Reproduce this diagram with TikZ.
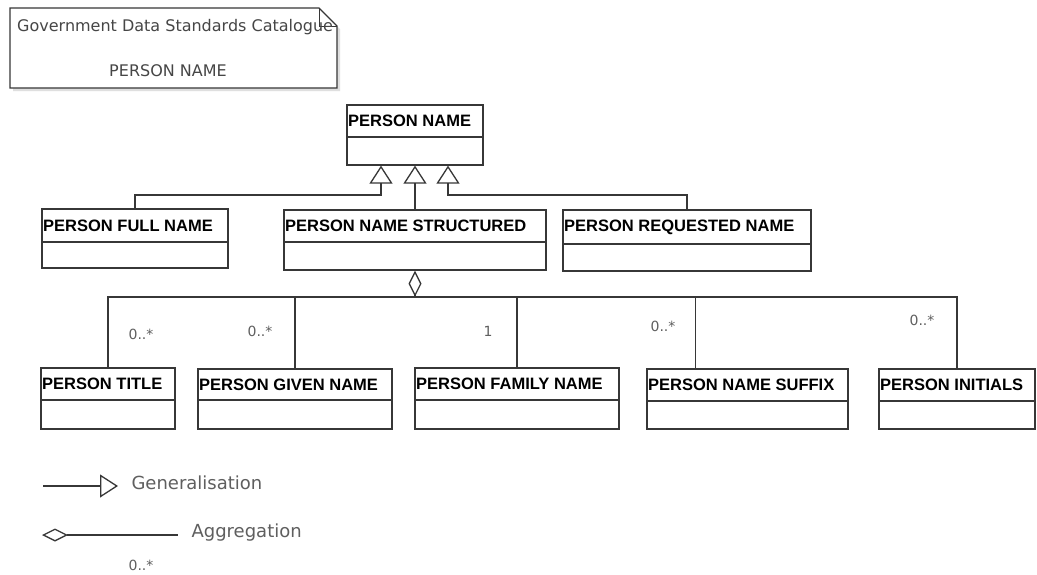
\documentclass[tikz,border=0pt]{standalone}
\usepackage{fontspec}
\setmainfont{DejaVu Sans}
\newfontfamily\hdr{Liberation Sans}
\usetikzlibrary{arrows.meta,fit}
\definecolor{ln}{RGB}{55,55,55}
\definecolor{lbl}{RGB}{95,95,95}
\definecolor{notetxt}{RGB}{70,70,70}
\tikzset{
  cls/.style={draw=ln, line width=1.3pt, inner sep=0pt},
  hdrtext/.style={anchor=west, font=\hdr\bfseries\fontsize{16.5}{16.5}\selectfont, inner sep=1pt},
  conn/.style={draw=ln, line width=1.3pt},
  gen/.style={conn, -{Triangle[open,length=18pt,width=23pt]}},
  agg/.style={conn, {Diamond[open,length=26pt,width=13pt]}-},
  mult/.style={font=\fontsize{14}{14}\selectfont, text=lbl},
  legendtxt/.style={font=\fontsize{18}{18}\selectfont, text=lbl, anchor=west},
}
\newcommand\umlcls[7]{%
  \node[cls, fit={(#2,#3) (#4,#5)}] (#1) {};
  \draw[ln, line width=1.3pt] (#2,#6) -- (#4,#6);
  \node[hdrtext] at (#2, {(#3+#6)/2}) {#7};
}
\begin{document}
\begin{tikzpicture}[x=1pt,y=-1pt]
\useasboundingbox[fill=white] (0,0) rectangle (1037,574);

% note
\fill[gray!25] (13,11) -- (322,11) -- (340,29) -- (340,91) -- (13,91) -- cycle;
\draw[ln, line width=1.3pt, fill=white] (10,8) -- (319,8) -- (337,26) -- (337,88) -- (10,88) -- cycle;
\draw[ln, line width=1pt] (319,8) -- (319,26) -- (337,26);
\node[font=\fontsize{16}{16}\selectfont, text=notetxt, anchor=west, inner sep=0pt] (notet) at (17,27) {Government Data Standards Catalogue};
\node[font=\fontsize{16}{16}\selectfont, text=notetxt] (noten) at (168,71) {PERSON NAME};

% classes
\umlcls{pn}{347}{105}{483}{165}{137}{PERSON NAME}
\umlcls{pfn}{42}{209}{228}{268}{242}{PERSON FULL NAME}
\umlcls{pns}{284}{210}{546}{270}{242}{PERSON NAME STRUCTURED}
\umlcls{prn}{563}{210}{811}{271}{244}{PERSON REQUESTED NAME}
\umlcls{pt}{41}{368}{175}{429}{400}{PERSON TITLE}
\umlcls{pg}{198}{369}{392}{429}{400}{PERSON GIVEN NAME}
\umlcls{pf}{415}{368}{619}{429}{400}{PERSON FAMILY NAME}
\umlcls{psx}{647}{369}{848}{429}{401}{PERSON NAME SUFFIX}
\umlcls{pi}{879}{369}{1035}{429}{401}{PERSON INITIALS}

% generalisations
\coordinate (gbus) at (0,195);
\coordinate (t1) at ([xshift=-34pt]pn.south);
\coordinate (t3) at ([xshift=33pt]pn.south);
\draw[gen] (pfn.north) |- (t1 |- gbus) -- (t1);
\draw[gen] (pns.north) -- (pn.south);
\draw[gen] (prn.north) |- (t3 |- gbus) -- (t3);

% aggregation
\coordinate (abus) at (415,297);
\coordinate (sx) at ([xshift=-52pt]psx.north);
\draw[agg] (pns.south) -- (abus);
\draw[conn] (abus) -| (pt.north);
\draw[conn] (abus) -| (pg.north);
\draw[conn] (abus) -| (pf.north);
\draw[conn] (abus) -| (sx);
\draw[conn] (abus) -| (pi.north);

% multiplicities
\node[mult] (m1) at (141,334) {0..*};
\node[mult] (m2) at (260,331) {0..*};
\node[mult] (m3) at (488,331) {1};
\node[mult] (m4) at (663,326) {0..*};
\node[mult] (m5) at (922,320) {0..*};

% legend
\coordinate (lg1) at (43,486);
\coordinate (lg2) at (118,486);
\draw[gen] (lg1) -- (lg2);
\node[legendtxt] (lgt) at (128,483) {Generalisation};
\coordinate (la1) at (42,535);
\coordinate (la2) at (178,535);
\draw[agg] (la1) -- (la2);
\node[legendtxt] (lat) at (188,533) {Aggregation};
\node[mult] (lam) at (141,565) {0..*};
\end{tikzpicture}
\end{document}
